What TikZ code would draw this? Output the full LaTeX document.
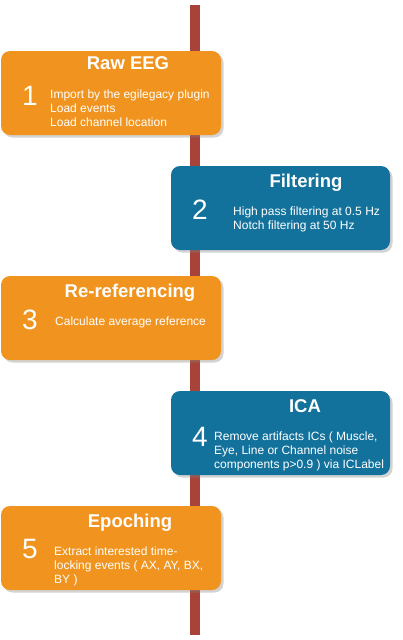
\documentclass[tikz,border=0pt]{standalone}
\usepackage{fontspec}
\setmainfont{Liberation Sans}
\usetikzlibrary{shadows}
\definecolor{boxorange}{HTML}{F0941F}
\definecolor{boxblue}{HTML}{13729C}
\definecolor{linered}{HTML}{A8433A}
\tikzset{
  stepbox/.style={rounded corners=9pt, inner sep=0pt, minimum width=220pt, minimum height=84pt,
    drop shadow={shadow xshift=2.5pt, shadow yshift=-2.5pt, opacity=0.35, fill=gray}},
  orangebox/.style={stepbox, fill=boxorange},
  bluebox/.style={stepbox, fill=boxblue, minimum width=219pt},
  titletext/.style={text=white, font=\fontsize{18.5}{20}\selectfont\bfseries, inner sep=0pt, anchor=base},
  numtext/.style={text=white, font=\fontsize{28}{30}\selectfont, inner sep=0pt, anchor=base},
  bodytext/.style={text=white, font=\fontsize{12}{14}\selectfont, inner sep=0pt, align=left, anchor=north west},
}
\begin{document}
\begin{tikzpicture}[x=1pt,y=-1pt]
\useasboundingbox (0,0) rectangle (403,640);
\coordinate (ltop) at (195,5);
\coordinate (lbot) at (195,635);
\draw[line width=10pt, linered] (ltop) -- (lbot);
% boxes
\node[orangebox] (b1) at (111,93) {};
\node[bluebox] (b2) at (280.5,208) {};
\node[orangebox] (b3) at (111,318) {};
\node[bluebox] (b4) at (280.5,433) {};
\node[orangebox] (b5) at (111,548) {};
% titles
\node[titletext] (t1) at (128,69.5) {Raw EEG};
\node[titletext] (t2) at (306,187.5) {Filtering};
\node[titletext] (t3) at (130,297.5) {Re-referencing};
\node[titletext] (t4) at (305,412.5) {ICA};
\node[titletext] (t5) at (130,527.5) {Epoching};
% numbers
\node[numtext] (n1) at (30,105) {1};
\node[numtext] (n2) at (200,219) {2};
\node[numtext] (n3) at (30,329) {3};
\node[numtext] (n4) at (200,446) {4};
\node[numtext] (n5) at (30,558) {5};
% bodies
\node[bodytext] (d1) at (50,90) {Import by the egilegacy plugin\\Load events\\Load channel location};
\node[bodytext] (d2) at (233,207) {High pass filtering at 0.5 Hz\\Notch filtering at 50 Hz};
\node[bodytext] (d3) at (55,317) {Calculate average reference};
\node[bodytext] (d4) at (214,432) {Remove artifacts ICs ( Muscle,\\Eye, Line or Channel noise\\components p>0.9 ) via ICLabel};
\node[bodytext] (d5) at (54,547) {Extract interested time-\\locking events ( AX, AY, BX,\\BY )};
\end{tikzpicture}
\end{document}
